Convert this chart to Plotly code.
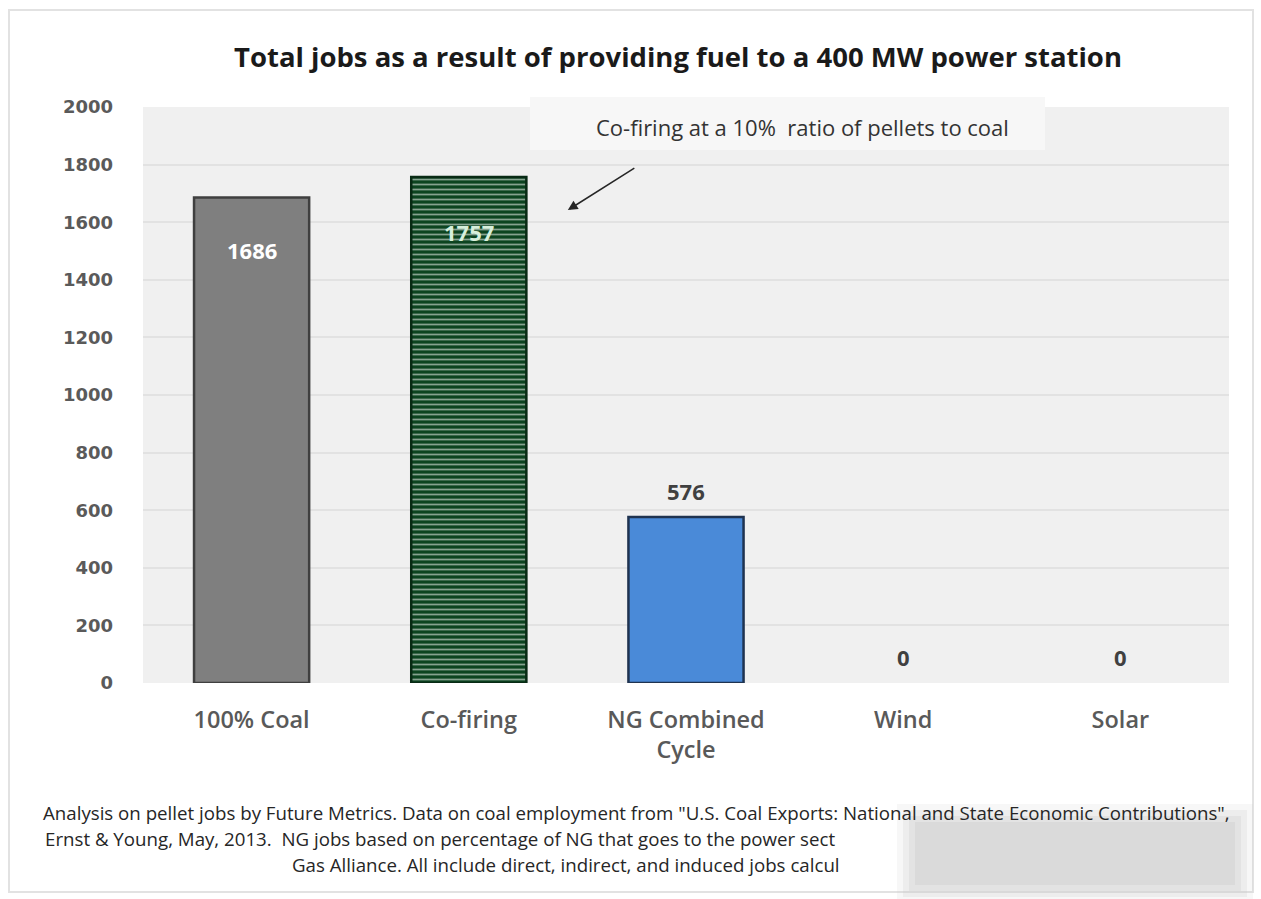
import plotly.graph_objects as go

categories = ["100% Coal", "Co-firing", "NG Combined<br>Cycle", "Wind", "Solar"]
jobs = [1686, 1757, 576, 0, 0]
bar_colors = ["#7f7f7f", "#0c4420", "#4a8ad8", "#7f7f7f", "#7f7f7f"]
line_colors = ["#3f3f3f", "#082a14", "#1f3350", "#3f3f3f", "#3f3f3f"]
line_widths = [2.5, 2.5, 2.5, 0, 0]
label_colors = ["#ffffff", "#d8f0dc", "#404040", "#404040", "#404040"]
label_shift = [-53, -55, 26, 26, 26]
y_ticks = [0, 200, 400, 600, 800, 1000, 1200, 1400, 1600, 1800, 2000]

title_text = "Total jobs as a result of providing fuel to a 400 MW power station"
note_text = "Co-firing at a 10%  ratio of pellets to coal"
foot_lines = [
    "Analysis on pellet jobs by Future Metrics. Data on coal employment from \"U.S. Coal Exports: National and State Economic Contributions\",",
    "Ernst & Young, May, 2013.  NG jobs based on percentage of NG that goes to the power sect",
    "Gas Alliance. All include direct, indirect, and induced jobs calcul",
]

FONT = "Open Sans, sans-serif"

L, R, T, B = 143, 32, 107, 216
W, H = 1261, 899
PW, PH = W - L - R, H - T - B

def px(x):
    return (x - L) / PW

def py(y):
    return (H - B - y) / PH

fig = go.Figure()
fig.add_trace(go.Bar(
    x=categories, y=jobs, width=0.53,
    marker=dict(color=bar_colors, line=dict(color=line_colors, width=line_widths),
                pattern=dict(shape=["", "-", "", "", ""], fgcolor="#2f7a45",
                             bgcolor="#0c4420", size=5, solidity=0.35,
                             fillmode="overlay")),
    hoverinfo="skip",
))

annotations = []
for c, v, col, sh in zip(categories, jobs, label_colors, label_shift):
    annotations.append(dict(x=c, y=v, xref="x", yref="y", text="<b>%d</b>" % v,
                            showarrow=False, yshift=sh, yanchor="middle",
                            xanchor="center",
                            font=dict(family=FONT, size=22, color=col)))

annotations.append(dict(x=px(678), y=py(57), xref="paper", yref="paper",
                        text="<b>" + title_text + "</b>", showarrow=False,
                        xanchor="center", yanchor="middle",
                        font=dict(family=FONT, size=27.5, color="#1a1a1a")))
annotations.append(dict(x=px(802), y=py(127), xref="paper", yref="paper",
                        text=note_text, showarrow=False,
                        xanchor="center", yanchor="middle",
                        font=dict(family=FONT, size=22, color="#333333")))
annotations.append(dict(x=1.456, y=1642, xref="x", yref="y", text="",
                        showarrow=True, arrowhead=2, arrowsize=1.3, arrowwidth=1.5,
                        arrowcolor="#262626", ax=68, ay=-43))
annotations.append(dict(x=px(636), y=py(812), xref="paper", yref="paper",
                        text=foot_lines[0], showarrow=False,
                        xanchor="center", yanchor="middle",
                        font=dict(family=FONT, size=18.7, color="#262626")))
annotations.append(dict(x=px(43), y=py(838), xref="paper", yref="paper",
                        text=foot_lines[1], showarrow=False,
                        xanchor="left", yanchor="middle",
                        font=dict(family=FONT, size=18.7, color="#262626")))
annotations.append(dict(x=px(290), y=py(864), xref="paper", yref="paper",
                        text=foot_lines[2], showarrow=False,
                        xanchor="left", yanchor="middle",
                        font=dict(family=FONT, size=18.7, color="#262626")))

shapes = [
    dict(type="rect", xref="paper", yref="paper", x0=px(9), x1=px(1253),
         y0=py(892), y1=py(10), line=dict(color="#e2e2e2", width=2),
         fillcolor="rgba(0,0,0,0)", layer="below"),
    dict(type="rect", xref="paper", yref="paper", x0=px(530), x1=px(1045),
         y0=py(150), y1=py(97), line=dict(width=0),
         fillcolor="#f7f7f7", layer="below"),
]
for pad, op in [(18, 0.15), (12, 0.2), (6, 0.25), (0, 0.3)]:
    shapes.append(dict(type="rect", xref="paper", yref="paper",
                       x0=px(915 - pad), x1=px(1235 + pad),
                       y0=py(885 + pad), y1=py(822 - pad),
                       line=dict(width=0), fillcolor="#c8c8c8", opacity=op,
                       layer="above"))

fig.update_layout(
    width=W, height=H,
    margin=dict(l=L, r=R, t=T, b=B),
    paper_bgcolor="#ffffff",
    plot_bgcolor="#f0f0f0",
    showlegend=False,
    annotations=annotations,
    shapes=shapes,
    font=dict(family=FONT, color="#595959"),
)
fig.update_yaxes(range=[0, 2000], tickvals=y_ticks,
                 tickfont=dict(family="DejaVu Sans, sans-serif", size=18,
                               color="#5a5a5a", weight="bold"),
                 showgrid=True, gridcolor="#e2e2e2", gridwidth=1.5,
                 zeroline=False, showline=False, ticks="", ticklabelstandoff=29)
fig.update_xaxes(tickfont=dict(family=FONT, size=23.5, color="#595959", weight=600),
                 showline=False, ticks="", showgrid=False, ticklabelstandoff=20)

fig.write_html("out.html")
